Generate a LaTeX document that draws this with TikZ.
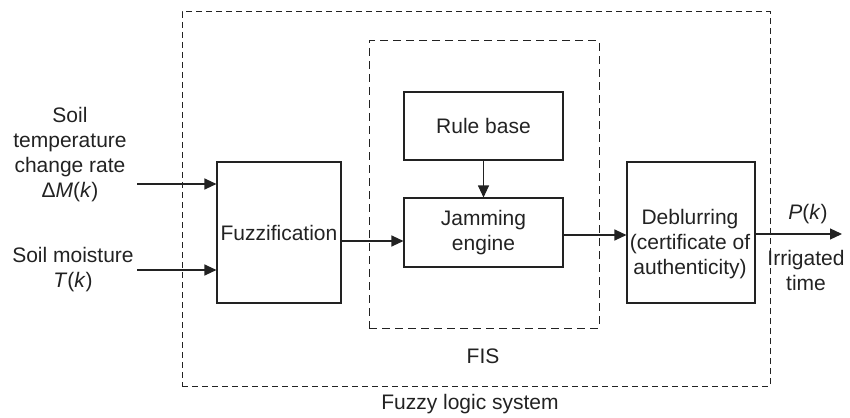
\documentclass[tikz,border=0pt]{standalone}
\usepackage{fontspec}
\setmainfont{Liberation Sans}
\usetikzlibrary{arrows.meta}
\definecolor{ink}{HTML}{222222}
\begin{document}
\begin{tikzpicture}[x=1pt,y=-1pt,
  every node/.style={font=\fontsize{21}{25}\selectfont, text=ink},
  box/.style={draw=ink, line width=1.1pt, inner sep=0pt},
  outerdash/.style={draw=ink, line width=1pt, dash pattern=on 6pt off 4pt, inner sep=0pt},
  innerdash/.style={draw=ink, line width=1pt, dash pattern=on 8pt off 5pt, inner sep=0pt},
  arr/.style={draw=ink, line width=1.1pt, -{Triangle[length=12pt,width=11pt]}}
]
\useasboundingbox (0,0) rectangle (850,417);

% dashed frames
\node[outerdash, minimum width=588pt, minimum height=374pt] (fls) at (476,199) {};
\node[innerdash, minimum width=230pt, minimum height=287pt] (fis) at (484,184.5) {};

% blocks
\node[box, minimum width=124pt, minimum height=141pt] (fuzz) at (279,232.5) {Fuzzification};
\node[box, minimum width=159pt, minimum height=68pt] (rule) at (483.5,126) {Rule base};
\node[box, minimum width=159pt, minimum height=69pt, align=center] (jam) at (483.5,232.5) {Jamming\\engine};
\node[box, minimum width=128pt, minimum height=141pt] (deb) at (691,232.5) {};
\node[align=center] (debtext) at (690,244) {Deblurring\\(certificate of\\authenticity)};

% labels
\node[align=center] (lab1) at (70,155) {Soil\\temperature\\change rate\\Δ\textit{M}(\textit{k})};
\node[align=center] (lab2) at (73,270) {Soil moisture\\\textit{T}(\textit{k})};
\node (pk) at (808,214) {\textit{P}(\textit{k})};
\node[align=center] (irr) at (806,270) {Irrigated\\time};
\node (fislab) at (483,356) {FIS};
\node (flslab) at (470,404) {Fuzzy logic system};

% connectors
\coordinate (in1) at (137,184);
\coordinate (in2) at (137,270);
\coordinate (m1) at (0,241);
\coordinate (m2) at (0,235);
\coordinate (out) at (842,234);
\draw[arr] (in1) -- (in1 -| fuzz.west);
\draw[arr] (in2) -- (in2 -| fuzz.west);
\draw[arr] (m1 -| fuzz.east) -- (m1 -| jam.west);
\draw[arr] (rule.south) -- (jam.north);
\draw[arr] (m2 -| jam.east) -- (m2 -| deb.west);
\draw[arr] (out -| deb.east) -- (out);
\end{tikzpicture}
\end{document}
